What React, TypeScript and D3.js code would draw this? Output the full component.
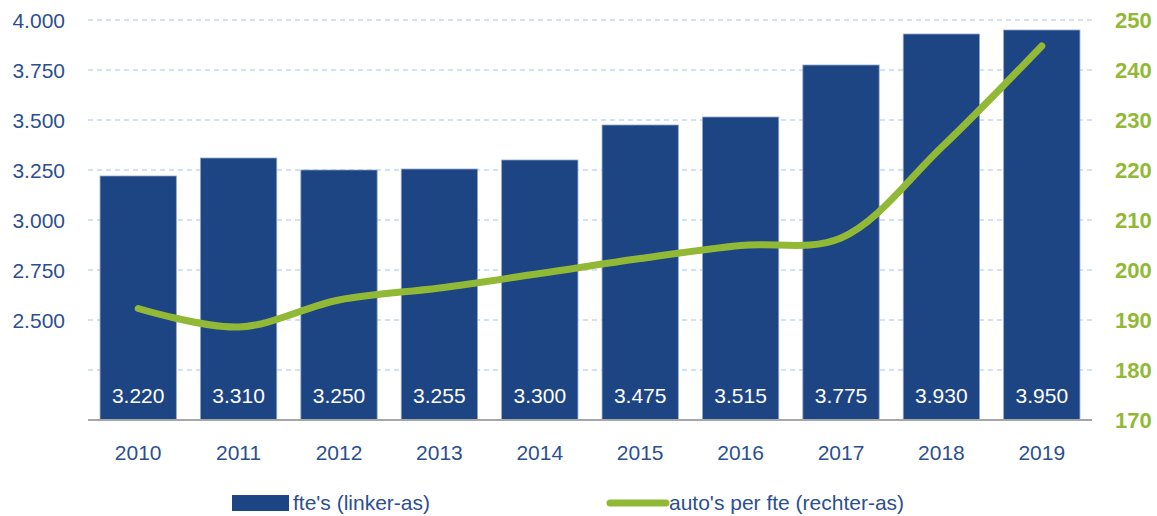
import React, { useEffect } from 'react';
import * as d3 from 'd3';

const years = ['2010', '2011', '2012', '2013', '2014', '2015', '2016', '2017', '2018', '2019'];
const fte = [3220, 3310, 3250, 3255, 3300, 3475, 3515, 3775, 3930, 3950];
const autosPerFte = [192.3, 188.6, 194, 196.4, 199.3, 202.3, 204.9, 206.4, 224.5, 244.8];
const leftTicks = [2000, 2250, 2500, 2750, 3000, 3250, 3500, 3750, 4000];
const rightTicks = [170, 180, 190, 200, 210, 220, 230, 240, 250];

const BLUE = '#1d4584';
const GREEN = '#92b935';
const TEXT_BLUE = '#2c4f8f';

const fmt = (v: number) => d3.format(',')(v).replace(',', '.');

const App = () => {
  const width = 1157;
  const height = 516;
  const margin = { top: 20, right: 65, bottom: 96, left: 88 };
  const innerW = width - margin.left - margin.right;
  const innerH = height - margin.top - margin.bottom;

  useEffect(() => {
    document.body.style.margin = '0';
  }, []);

  const x = d3.scaleBand().domain(years).range([0, innerW]).paddingInner(0.24).paddingOuter(0.12);
  const yLeft = d3.scaleLinear().domain([2000, 4000]).range([innerH, 0]);
  const yRight = d3.scaleLinear().domain([170, 250]).range([innerH, 0]);

  const line = d3
    .line<number>()
    .x((_, i) => (x(years[i]) as number) + x.bandwidth() / 2)
    .y((d) => yRight(d))
    .curve(d3.curveCatmullRom.alpha(0.5));

  const font = '"Liberation Sans", Arial, sans-serif';

  return (
    <svg width={width} height={height} style={{ display: 'block', background: '#fff' }} fontFamily={font}>
      <g transform={`translate(${margin.left},${margin.top})`}>
        {leftTicks.slice(1).map((t) => (
          <line
            key={t}
            x1={0}
            x2={innerW}
            y1={yLeft(t)}
            y2={yLeft(t)}
            stroke='#a9c3e6'
            strokeWidth={1.2}
            strokeDasharray='5,4'
          />
        ))}
        {leftTicks
          .filter((t) => t >= 2500)
          .map((t) => (
            <text key={t} x={-23} y={yLeft(t)} dy='0.36em' textAnchor='end' fontSize={21} fill={TEXT_BLUE}>
              {fmt(t)}
            </text>
          ))}
        {rightTicks.map((t) => (
          <text key={t} x={innerW + 23} y={yRight(t)} dy='0.36em' fontSize={22} fontWeight='bold' fill={GREEN}>
            {t}
          </text>
        ))}
        {fte.map((v, i) => (
          <g key={years[i]}>
            <rect
              x={x(years[i])}
              y={yLeft(v)}
              width={x.bandwidth()}
              height={innerH - yLeft(v)}
              fill={BLUE}
              stroke='#8fa6cc'
              strokeWidth={0.8}
            />
            <text
              x={(x(years[i]) as number) + x.bandwidth() / 2}
              y={innerH - 17}
              textAnchor='middle'
              fontSize={21}
              fill='#fff'
            >
              {fmt(v)}
            </text>
            <text
              x={(x(years[i]) as number) + x.bandwidth() / 2}
              y={innerH + 40}
              textAnchor='middle'
              fontSize={21}
              fill={TEXT_BLUE}
            >
              {years[i]}
            </text>
          </g>
        ))}
        <line x1={0} x2={innerW} y1={innerH} y2={innerH} stroke='#a6a6a6' strokeWidth={2} />
        <path d={line(autosPerFte) ?? ''} fill='none' stroke={GREEN} strokeWidth={7} strokeLinecap='round' />
      </g>
      <g transform='translate(232,495)'>
        <rect x={0} y={0} width={57} height={16} fill={BLUE} />
        <text x={61} y={15} fontSize={21} fill={TEXT_BLUE}>
          fte's (linker-as)
        </text>
      </g>
      <g transform='translate(610,503)'>
        <line x1={0} x2={56} y1={0} y2={0} stroke={GREEN} strokeWidth={7} strokeLinecap='round' />
        <text x={59} y={7} fontSize={21} fill={TEXT_BLUE}>
          auto's per fte (rechter-as)
        </text>
      </g>
    </svg>
  );
};

export default App;
